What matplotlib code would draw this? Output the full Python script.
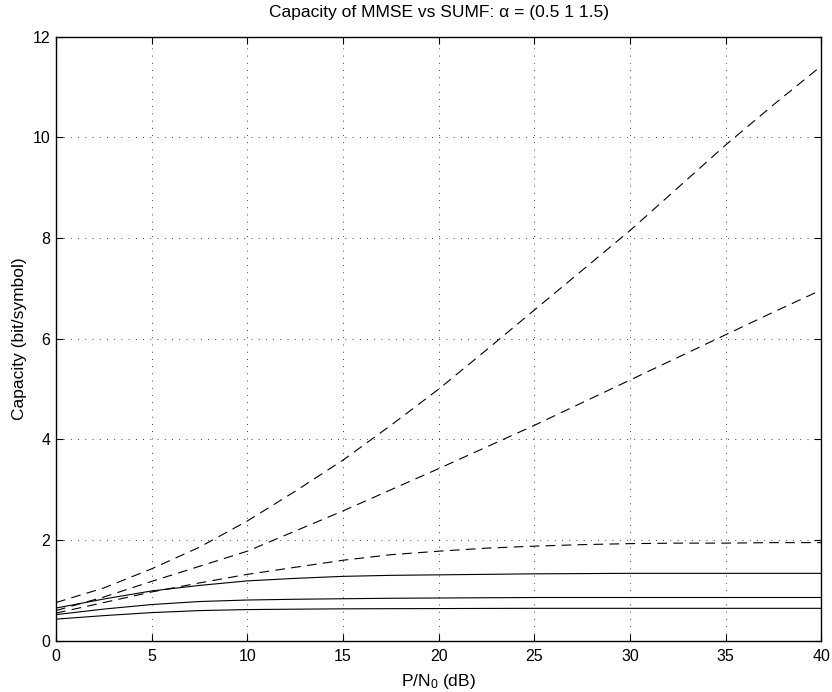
import matplotlib
matplotlib.use("Agg")
from matplotlib import pyplot as plt

# data
snr_db = [0, 2.5, 5, 7.5, 10, 12.5, 15, 17.5, 20, 22.5, 25, 27.5, 30, 32.5, 35, 37.5, 40]

# SUMF (dashed)
sumf_a = [0.76, 1.05, 1.43, 1.86, 2.38, 2.97, 3.59, 4.28, 5.0, 5.78, 6.57, 7.36, 8.15, 9.0, 9.85, 10.65, 11.42]
sumf_b = [0.6, 0.87, 1.18, 1.48, 1.78, 2.18, 2.58, 3.0, 3.42, 3.85, 4.28, 4.73, 5.18, 5.63, 6.08, 6.53, 6.97]
sumf_c = [0.55, 0.76, 0.97, 1.15, 1.32, 1.46, 1.6, 1.71, 1.78, 1.84, 1.88, 1.91, 1.93, 1.94, 1.94, 1.95, 1.95]

# MMSE (solid)
mmse_a = [0.65, 0.83, 0.99, 1.1, 1.19, 1.24, 1.28, 1.3, 1.31, 1.32, 1.33, 1.335, 1.34, 1.34, 1.34, 1.34, 1.34]
mmse_b = [0.52, 0.63, 0.72, 0.78, 0.81, 0.825, 0.835, 0.845, 0.85, 0.855, 0.86, 0.86, 0.86, 0.86, 0.86, 0.86, 0.86]
mmse_c = [0.43, 0.5, 0.56, 0.6, 0.62, 0.628, 0.635, 0.638, 0.64, 0.643, 0.645, 0.645, 0.645, 0.645, 0.645, 0.645, 0.645]

plt.rcParams['font.family'] = ['Liberation Sans', 'DejaVu Sans']
plt.rcParams['mathtext.fontset'] = 'custom'
plt.rcParams['mathtext.rm'] = 'Liberation Sans'
plt.rcParams['mathtext.it'] = 'Liberation Sans:italic'
plt.rcParams['lines.scale_dashes'] = False

fig = plt.figure(figsize=(8.32, 6.92), dpi=100)
ax = fig.add_axes([0.0673, 0.074, 0.92, 0.873])

for y in (sumf_a, sumf_b, sumf_c):
    ax.plot(snr_db, y, color="black", lw=0.8, dashes=(7, 4.5))
for y in (mmse_a, mmse_b, mmse_c):
    ax.plot(snr_db, y, color="black", lw=0.8)

ax.set_xlim(0, 40)
ax.set_ylim(0, 12)
ax.set_xticks(range(0, 41, 5))
ax.set_yticks(range(0, 13, 2))
ax.grid(True, color="black", lw=0.6, dashes=(0.6, 4.6))
ax.tick_params(direction="in", top=True, right=True, length=5, width=0.8, labelsize=11.5)
ax.tick_params(axis="x", pad=6)
ax.tick_params(axis="y", pad=4)
for s in ax.spines.values():
    s.set_linewidth(1.0)

ax.set_title("Capacity of MMSE vs SUMF: α = (0.5 1 1.5)", fontsize=12.5, pad=14)
ax.set_xlabel("P/N$_\\mathrm{0}$ (dB)", fontsize=12.5, labelpad=6)
ax.set_ylabel("Capacity (bit/symbol)", fontsize=12.5, labelpad=4)

fig.savefig("out.png", dpi=100)
